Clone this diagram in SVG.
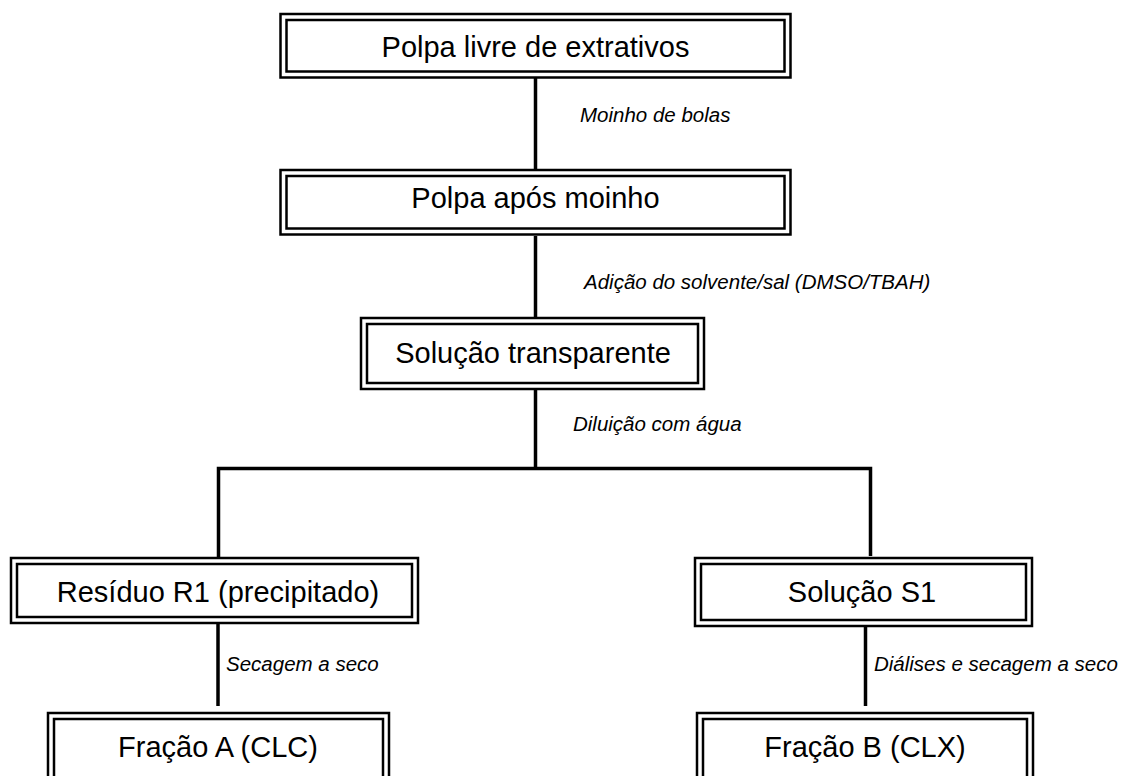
<svg xmlns="http://www.w3.org/2000/svg" width="1134" height="776" viewBox="0 0 1134 776">
<style>
.o{fill:none;stroke:#000;stroke-width:2.5}
.i{fill:none;stroke:#000;stroke-width:2.5}
.t{font-family:"Liberation Sans",Arial,sans-serif;font-size:29px;fill:#000;text-anchor:middle}
.l{font-family:"Liberation Sans",Arial,sans-serif;font-size:20.5px;font-style:italic;fill:#000}
.c{fill:none;stroke:#000;stroke-width:3.5}
</style>
<rect width="1134" height="776" fill="#fff"/>
<g id="connectors">
<line class="c" x1="535.5" y1="78" x2="535.5" y2="170"/>
<line class="c" x1="535.5" y1="236" x2="535.5" y2="318"/>
<line class="c" x1="535.5" y1="390" x2="535.5" y2="468.5"/>
<polyline class="c" points="218.5,557 218.5,468.5 870.5,468.5 870.5,556"/>
<line class="c" x1="218" y1="624" x2="218" y2="706"/>
<line class="c" x1="865.5" y1="627" x2="865.5" y2="706"/>
<text class="l" x="580" y="122">Moinho de bolas</text>
<text class="l" x="584" y="289">Adição do solvente/sal (DMSO/TBAH)</text>
<text class="l" x="573" y="431">Diluição com água</text>
<text class="l" x="226" y="671">Secagem a seco</text>
<text class="l" x="874" y="671">Diálises e secagem a seco</text>
</g>
<g id="n1">
<rect class="o" x="280.5" y="14" width="510" height="63.5"/>
<rect class="i" x="286.5" y="20" width="498" height="51.5"/>
<text class="t" x="535.5" y="57">Polpa livre de extrativos</text>
</g>
<g id="n2">
<rect class="o" x="280.5" y="170" width="510" height="64.5"/>
<rect class="i" x="286.5" y="176" width="498" height="52.5"/>
<text class="t" x="535.5" y="208">Polpa após moinho</text>
</g>
<g id="n3">
<rect class="o" x="361" y="318" width="343" height="71"/>
<rect class="i" x="367" y="324" width="331" height="59"/>
<text class="t" x="533" y="363">Solução transparente</text>
</g>
<g id="n4">
<rect class="o" x="11" y="558" width="407" height="65"/>
<rect class="i" x="17" y="564" width="395" height="53"/>
<text class="t" x="218" y="602">Resíduo R1 (precipitado)</text>
</g>
<g id="n5">
<rect class="o" x="695" y="558" width="337" height="68"/>
<rect class="i" x="701" y="564" width="325" height="56"/>
<text class="t" x="862" y="602">Solução S1</text>
</g>
<g id="n6">
<rect class="o" x="48" y="713" width="341" height="80"/>
<rect class="i" x="54" y="719" width="329" height="68"/>
<text class="t" x="218" y="757">Fração A (CLC)</text>
</g>
<g id="n7">
<rect class="o" x="697" y="713" width="336" height="80"/>
<rect class="i" x="703" y="719" width="324" height="68"/>
<text class="t" x="865" y="757">Fração B (CLX)</text>
</g>
</svg>
